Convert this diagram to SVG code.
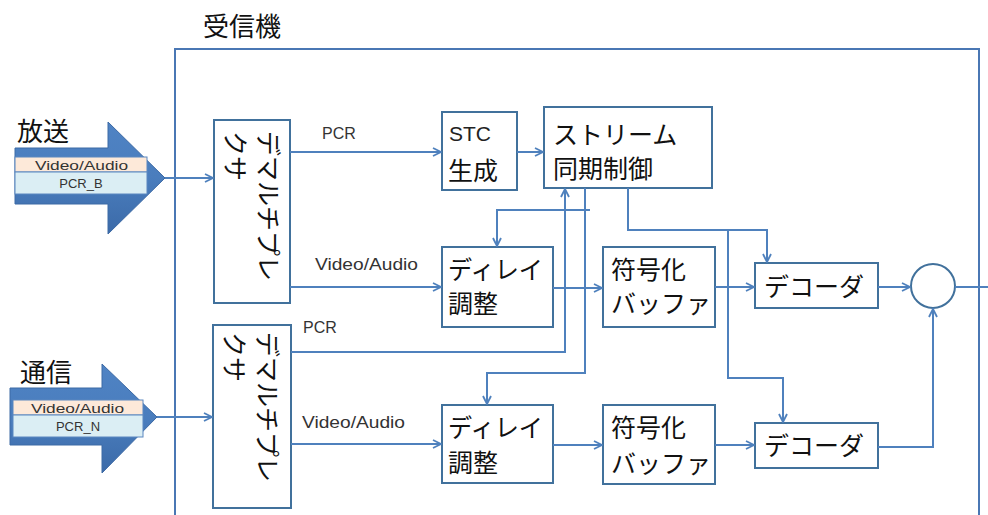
<svg xmlns="http://www.w3.org/2000/svg" width="988" height="515" viewBox="0 0 988 515">
<defs>
<style>
.box{fill:#fff;stroke:#41719c;stroke-width:2}
.jp{font-family:"Noto Sans CJK JP","Noto Sans CJK SC",sans-serif;font-size:25px;fill:#111}
.jp26{font-family:"Noto Sans CJK JP","Noto Sans CJK SC",sans-serif;font-size:26px;fill:#111}
.lbl{font-family:"Liberation Sans",Arial,sans-serif;font-size:16px;fill:#333}
.stc{font-family:"Liberation Sans",Arial,sans-serif;font-size:21px;fill:#222}
.small{font-family:"Liberation Sans",Arial,sans-serif;font-size:13px;fill:#333}
.con{fill:none;stroke:#4f81bd;stroke-width:2}
.big{fill:url(#g);stroke:#3d6aa5;stroke-width:1}
</style>
<linearGradient id="g" x1="0" y1="0" x2="0" y2="1">
<stop offset="0" stop-color="#4f83c4"/>
<stop offset="0.5" stop-color="#4a7dbd"/>
<stop offset="1" stop-color="#3b6aa8"/>
</linearGradient>
<marker id="arr" viewBox="0 0 10 10" refX="9" refY="5" markerWidth="10" markerHeight="10" orient="auto" markerUnits="userSpaceOnUse">
<path d="M1,1 L9,5 L1,9" fill="none" stroke="#4f81bd" stroke-width="1.8"/>
</marker>
</defs>

<g id="receiver">
<rect x="175" y="49" width="804" height="480" fill="none" stroke="#4a77b4" stroke-width="2"/>
<text class="jp26" x="203" y="36">受信機</text>
</g>

<g id="input-broadcast">
<polygon class="big" points="15,148 108,148 108,122 165,178 108,234 108,204 15,204"/>
<rect x="15" y="157" width="132" height="15" fill="#fde9d9" stroke="#5b87c0" stroke-width="1"/>
<rect x="15" y="172" width="132" height="22" fill="#dbeef4" stroke="#5b87c0" stroke-width="1"/>
<text class="small" x="35" y="169.5" textLength="93" lengthAdjust="spacingAndGlyphs">Video/Audio</text>
<text class="small" x="81" y="188" text-anchor="middle">PCR_B</text>
<text class="jp26" x="17" y="141">放送</text>
</g>

<g id="input-network">
<polygon class="big" points="10,388 102,388 102,364 157,417 102,473 102,445 10,445"/>
<rect x="13" y="400" width="130" height="15" fill="#fde9d9" stroke="#5b87c0" stroke-width="1"/>
<rect x="13" y="415" width="130" height="22" fill="#dbeef4" stroke="#5b87c0" stroke-width="1"/>
<text class="small" x="31" y="412.5" textLength="93" lengthAdjust="spacingAndGlyphs">Video/Audio</text>
<text class="small" x="78" y="431" text-anchor="middle">PCR_N</text>
<text class="jp26" x="20" y="382">通信</text>
</g>

<g id="demux-top">
<rect class="box" x="214" y="120" width="76" height="183"/>
<text class="jp" transform="translate(259,131) rotate(90)">デマルチプレ</text>
<text class="jp" transform="translate(226,131) rotate(90)">クサ</text>
</g>

<g id="demux-bottom">
<rect class="box" x="213" y="325" width="78" height="183"/>
<text class="jp" transform="translate(258,332) rotate(90)">デマルチプレ</text>
<text class="jp" transform="translate(225,332) rotate(90)">クサ</text>
</g>

<g id="stc">
<rect class="box" x="442" y="112" width="75" height="78"/>
<text class="stc" x="449" y="141">STC</text>
<text class="jp" x="448" y="180">生成</text>
</g>

<g id="stream-sync">
<rect class="box" x="544" y="107" width="168" height="81"/>
<text class="jp" x="553" y="144">ストリーム</text>
<text class="jp" x="553" y="178">同期制御</text>
</g>

<g id="delay-top">
<rect class="box" x="442" y="247" width="111" height="80"/>
<text class="jp" x="448" y="279" textLength="95" lengthAdjust="spacingAndGlyphs">ディレイ</text>
<text class="jp" x="448" y="313">調整</text>
</g>

<g id="buffer-top">
<rect class="box" x="603" y="247" width="112" height="80"/>
<text class="jp" x="611" y="279">符号化</text>
<text class="jp" x="611" y="313">バッファ</text>
</g>

<g id="decoder-top">
<rect class="box" x="755" y="263" width="123" height="45"/>
<text class="jp" x="764" y="296">デコーダ</text>
</g>

<g id="mixer">
<circle cx="933" cy="286" r="22" fill="#fff" stroke="#41719c" stroke-width="2"/>
</g>

<g id="delay-bottom">
<rect class="box" x="442" y="405" width="111" height="78"/>
<text class="jp" x="448" y="437" textLength="95" lengthAdjust="spacingAndGlyphs">ディレイ</text>
<text class="jp" x="448" y="472">調整</text>
</g>

<g id="buffer-bottom">
<rect class="box" x="603" y="405" width="112" height="79"/>
<text class="jp" x="611" y="437">符号化</text>
<text class="jp" x="611" y="473">バッファ</text>
</g>

<g id="decoder-bottom">
<rect class="box" x="755" y="423" width="123" height="45"/>
<text class="jp" x="764" y="455">デコーダ</text>
</g>

<g id="labels">
<text class="lbl" x="322" y="139">PCR</text>
<text class="lbl" x="315" y="270" textLength="103" lengthAdjust="spacingAndGlyphs">Video/Audio</text>
<text class="lbl" x="303" y="333">PCR</text>
<text class="lbl" x="302" y="428" textLength="103" lengthAdjust="spacingAndGlyphs">Video/Audio</text>
</g>

<g id="connectors">
<path class="con" d="M165,178 H213" marker-end="url(#arr)"/>
<path class="con" d="M157,417 H212" marker-end="url(#arr)"/>
<path class="con" d="M290,152 H441" marker-end="url(#arr)"/>
<path class="con" d="M517,152 H543" marker-end="url(#arr)"/>
<path class="con" d="M290,287 H441" marker-end="url(#arr)"/>
<path class="con" d="M553,288 H602" marker-end="url(#arr)"/>
<path class="con" d="M715,287 H754" marker-end="url(#arr)"/>
<path class="con" d="M878,287 H910" marker-end="url(#arr)"/>
<path class="con" d="M955,287 H988"/>
<path class="con" d="M878,447 H933 V309" marker-end="url(#arr)"/>
<path class="con" d="M291,352 H565 V189" marker-end="url(#arr)"/>
<path class="con" d="M585,188 V373 H487 V404" marker-end="url(#arr)"/>
<path class="con" d="M590,210 H497 V246" marker-end="url(#arr)"/>
<path class="con" d="M628,188 V230 H767 V262" marker-end="url(#arr)"/>
<path class="con" d="M728,230 V378 H783 V422" marker-end="url(#arr)"/>
<path class="con" d="M291,444 H441" marker-end="url(#arr)"/>
<path class="con" d="M553,445 H602" marker-end="url(#arr)"/>
<path class="con" d="M715,445 H754" marker-end="url(#arr)"/>
</g>
</svg>
